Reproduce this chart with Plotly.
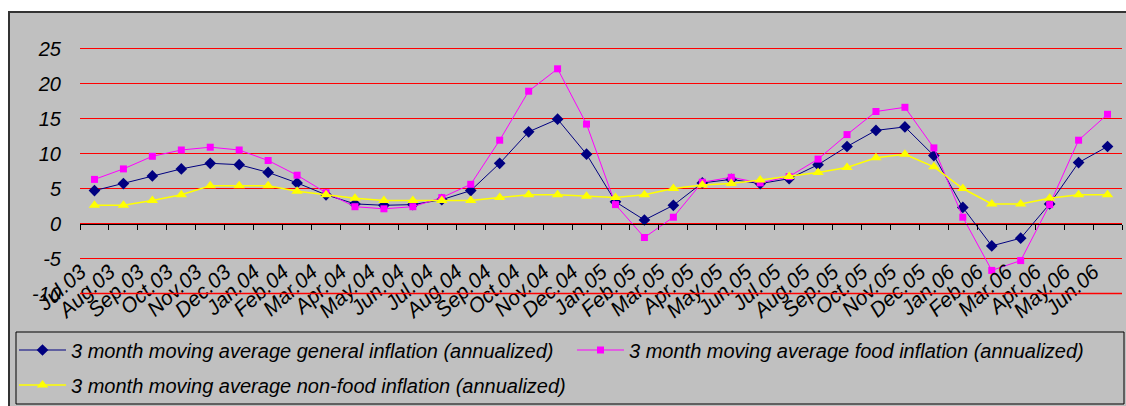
import plotly.graph_objects as go

months = ["Jul.03","Aug.03","Sep.03","Oct.03","Nov.03","Dec.03","Jan.04","Feb.04","Mar.04","Apr.04",
          "May.04","Jun.04","Jul.04","Aug.04","Sep.04","Oct.04","Nov.04","Dec.04","Jan.05","Feb.05",
          "Mar.05","Apr.05","May.05","Jun.05","Jul.05","Aug.05","Sep.05","Oct.05","Nov.05","Dec.05",
          "Jan.06","Feb.06","Mar.06","Apr.06","May.06","Jun.06"]

general = [4.7,5.7,6.8,7.8,8.6,8.4,7.3,5.8,4.1,2.8,2.6,2.7,3.4,
           4.7,8.6,13.1,14.9,9.9,3.1,0.5,2.6,5.8,6.3,5.7,6.4,
           8.4,11.0,13.3,13.8,9.7,2.3,-3.2,-2.1,2.8,8.7,11.0]
food = [6.3,7.8,9.6,10.5,10.9,10.5,9.0,6.9,4.4,2.4,2.1,2.4,3.7,
        5.6,11.9,18.9,22.1,14.2,2.7,-2.0,0.9,5.9,6.6,5.8,6.7,
        9.2,12.7,16.0,16.6,10.8,0.9,-6.7,-5.3,2.7,11.9,15.6]
nonfood = [2.6,2.6,3.3,4.1,5.4,5.4,5.4,4.6,4.1,3.6,3.3,3.3,3.3,
           3.3,3.7,4.1,4.1,3.9,3.7,4.1,5.0,5.5,5.7,6.2,6.7,
           7.3,8.0,9.4,9.9,8.1,5.0,2.8,2.8,3.6,4.1,4.1]

y_tickvals = [-10, -5, 0, 5, 10, 15, 20, 25]
y_ticktext = ["-10", "-5", "0", "5", "10", "15", "20", "25"]

names = ["3 month moving average general inflation (annualized)",
         "3 month moving average food inflation (annualized)",
         "3 month moving average non-food inflation (annualized)"]

W, H = 1126, 406
FONT = "Liberation Sans, Arial, sans-serif"

def px(x):
    return x / W

def py(y):
    return 1 - y / H

# 7 px per unit; -10 at y=293.5 px, 25 at y=48.5 px
PAD_PX = 2.5
ymin, ymax = -10 - PAD_PX / 7, 25 + PAD_PX / 7
ydom = [py(293.5 + PAD_PX), py(48.5 - PAD_PX)]
zero_pos = ydom[0] + (ydom[1] - ydom[0]) * (0 - ymin) / (ymax - ymin)
bottom_grid = ydom[0] + (ydom[1] - ydom[0]) * (y_tickvals[0] - ymin) / (ymax - ymin)

fig = go.Figure()
fig.add_trace(go.Scatter(x=months, y=general, name=names[0], mode="lines+markers",
                         line=dict(color="#000080", width=1),
                         marker=dict(symbol="diamond", size=9, color="#000080"),
                         legend="legend"))
fig.add_trace(go.Scatter(x=months, y=food, name=names[1], mode="lines+markers",
                         line=dict(color="#FF00FF", width=1),
                         marker=dict(symbol="square", size=7, color="#FF00FF"),
                         legend="legend2"))
fig.add_trace(go.Scatter(x=months, y=nonfood, name=names[2], mode="lines+markers",
                         line=dict(color="#FFFF00", width=1.5),
                         marker=dict(symbol="triangle-up", size=10, color="#FFFF00"),
                         legend="legend3"))

legfont = dict(family=FONT, size=20, color="black", style="italic")
legcommon = dict(font=legfont, bgcolor="rgba(0,0,0,0)", borderwidth=0,
                 orientation="h", xanchor="left", yanchor="middle", itemwidth=47)

shapes = [
    dict(type="rect", xref="paper", yref="paper", layer="below",
         x0=px(9), x1=px(1130), y0=py(410), y1=py(12),
         fillcolor="#C0C0C0", line=dict(color="#333333", width=2)),
    dict(type="rect", xref="paper", yref="paper", layer="below",
         x0=px(16), x1=px(1124), y0=py(404), y1=py(332),
         fillcolor="rgba(0,0,0,0)", line=dict(color="black", width=1)),
    # bottom (-10) grid line, drawn separately because plotly drops it
    dict(type="line", xref="paper", yref="paper", layer="above",
         x0=px(80), x1=px(1122), y0=bottom_grid, y1=bottom_grid,
         line=dict(color="#FF0000", width=1.5)),
]

fig.update_layout(
    width=W, height=H,
    margin=dict(l=0, r=0, t=0, b=0),
    paper_bgcolor="white",
    plot_bgcolor="rgba(0,0,0,0)",
    showlegend=True,
    legend=dict(x=px(14), y=py(350), **legcommon),
    legend2=dict(x=px(572), y=py(350), **legcommon),
    legend3=dict(x=px(14), y=py(385), **legcommon),
    xaxis=dict(domain=[px(80), px(1122)], type="category",
               anchor="free", position=zero_pos,
               showline=True, linecolor="black", linewidth=1,
               ticks="outside", ticklen=5, tickcolor="black", tickson="boundaries",
               tickangle=-42, showgrid=False, automargin=False,
               tickfont=dict(family=FONT, size=21, color="black", style="italic"),
               ticklabelstandoff=27, ticklabelshift=-14, range=[-0.5, 35.5]),
    yaxis=dict(domain=ydom, range=[ymin, ymax], tickvals=y_tickvals, ticktext=y_ticktext,
               showgrid=True, gridcolor="#FF0000", gridwidth=1,
               zeroline=False, showline=False, ticks="", automargin=False,
               tickfont=dict(family=FONT, size=20, color="black", style="italic"),
               ticklabelstandoff=18),
    shapes=shapes,
)

fig.write_html("out.html", config={"displayModeBar": False},
               post_script="document.body.style.margin='0px';document.body.style.overflow='hidden';")
